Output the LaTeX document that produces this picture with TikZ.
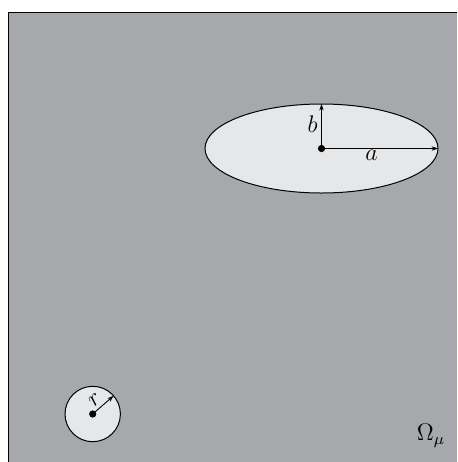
\documentclass[tikz,border=0pt]{standalone}
\usetikzlibrary{arrows.meta}
\definecolor{bggray}{RGB}{167,168,171}
\definecolor{incl}{RGB}{230,231,232}
\tikzset{
  dimarrow/.style={line width=0.45pt,-{Stealth[length=3.2pt,width=2.2pt]}},
  inclusion/.style={fill=incl,draw=black,line width=0.5pt},
  lbl/.style={inner sep=0pt,font=\fontsize{11.5}{13}\selectfont}
}
\begin{document}
\begin{tikzpicture}[x=0.5pt,y=-0.5pt]
\useasboundingbox (0,0) rectangle (457,462);
\clip (0,0) rectangle (457,462);
\fill[bggray] (8.5,12.5) rectangle (470,475);
\draw[line width=0.9pt] (8.5,470) -- (8.5,12.5) -- (470,12.5);
% ellipse
\coordinate (ec) at (321.5,148.5);
\draw[inclusion] (ec) ellipse [x radius=116.5, y radius=44.5];
\coordinate (ea) at (438,148.5);
\coordinate (eb) at (321.5,104);
\draw[dimarrow] (ec) -- (ea);
\draw[dimarrow] (ec) -- (eb);
\fill (ec) circle [radius=3.6];
\node[lbl] (la) at (371.5,155.5) {$a$};
\node[lbl] (lb) at (312.5,124) {$b$};
% circle
\coordinate (cc) at (92.7,414);
\draw[inclusion] (cc) circle [radius=27.7];
\coordinate (cr) at ([shift={(20.9,-18.2)}]cc);
\draw[dimarrow] (cc) -- (cr);
\fill (cc) circle [radius=3.6];
\node[lbl,rotate=41] (lr) at (95,399.5) {$r$};
% domain label
\node[lbl] (om) at (431,436) {$\Omega_\mu$};
\end{tikzpicture}
\end{document}
